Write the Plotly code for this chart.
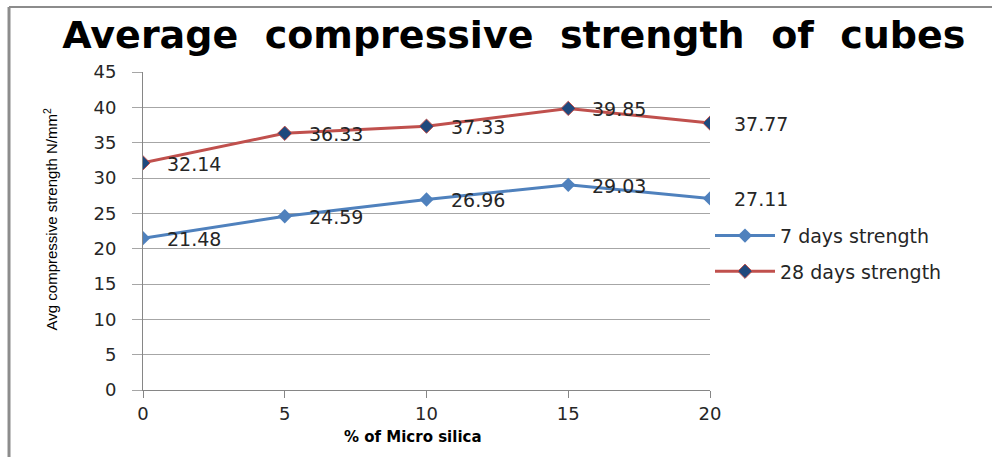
import plotly.graph_objects as go

# Percentage of micro silica replacing cement
micro_silica = [0, 5, 10, 15, 20]

# Average cube compressive strength (N/mm²)
strength_7_days = [21.48, 24.59, 26.96, 29.03, 27.11]
strength_28_days = [32.14, 36.33, 37.33, 39.85, 37.77]

y_ticks = [0, 5, 10, 15, 20, 25, 30, 35, 40, 45]
x_ticks = [0, 5, 10, 15, 20]

BLUE = "#4F81BD"
RED = "#C0504D"
NAVY = "#1F497D"
GRID = "#A6A6A6"
AXIS = "#868686"
TEXT = "#262626"

fig = go.Figure()

fig.add_trace(go.Scatter(
    x=micro_silica, y=strength_7_days, name="7 days strength",
    mode="lines+markers", legendgroup="g7",
    line=dict(color=BLUE, width=3),
    marker=dict(symbol="diamond", size=11, color=BLUE),
))
fig.add_trace(go.Scatter(
    x=micro_silica, y=strength_28_days, name="28 days strength",
    mode="lines+markers", legendgroup="g28",
    line=dict(color=RED, width=3),
    marker=dict(symbol="diamond", size=11, color=NAVY, line=dict(color=RED, width=1)),
))

# Value labels to the right of each point
annotations = []
for series in (strength_7_days, strength_28_days):
    for xv, yv in zip(micro_silica, series):
        annotations.append(dict(
            x=xv, y=yv, xref="x", yref="y", text=f"{yv:.2f}",
            showarrow=False, xanchor="left", yanchor="middle",
            xshift=22, yshift=-1,
            font=dict(family="DejaVu Sans", size=19, color=TEXT),
        ))

# Rotated y-axis title
annotations.append(dict(
    x=-0.163, y=0.535, xref="paper", yref="paper",
    text="Avg compressive strength N/mm<sup>2</sup>",
    showarrow=False, textangle=-90, xanchor="center", yanchor="middle",
    font=dict(family="Liberation Sans Narrow, Liberation Sans", size=15, color="#000000"),
))

# x-axis title, set slightly left of the plot centre
annotations.append(dict(
    x=0.476, y=-0.148, xref="paper", yref="paper",
    text="<b>% of Micro silica</b>",
    showarrow=False, xanchor="center", yanchor="middle",
    font=dict(family="DejaVu Sans", size=15, color="#000000"),
))

# Frame lines along the top and left of the chart area
shapes = [
    dict(type="line", xref="paper", yref="paper", x0=-0.2363, x1=1.5, y0=1.2044, y1=1.2044,
         line=dict(color="#8C8C8C", width=2)),
    dict(type="line", xref="paper", yref="paper", x0=-0.2363, x1=-0.2363, y0=1.2044, y1=-0.25,
         line=dict(color="#8C8C8C", width=3)),
]

title_text = "&nbsp; ".join(["Average", "compressive", "strength", "of", "cubes"])

fig.update_layout(
    width=992, height=457,
    margin=dict(l=143, r=282, t=72, b=67),
    paper_bgcolor="white", plot_bgcolor="white",
    title=dict(
        text=f"<b>{title_text}</b>",
        x=0.518, xanchor="center", y=0.925, yanchor="middle",
        font=dict(family="DejaVu Sans", size=38, color="#000000"),
    ),
    showlegend=True,
    legend=dict(
        x=1.0, xanchor="left", y=0.545, yanchor="top",
        font=dict(family="DejaVu Sans", size=19, color=TEXT),
        tracegroupgap=8, itemwidth=60, bgcolor="rgba(0,0,0,0)",
    ),
    annotations=annotations,
    shapes=shapes,
)

fig.update_xaxes(
    range=[0, 20], tickvals=x_ticks, ticktext=[str(v) for v in x_ticks],
    showgrid=False, zeroline=False,
    showline=True, linecolor=AXIS, linewidth=1,
    ticks="outside", ticklen=7, tickcolor=AXIS,
    tickfont=dict(family="DejaVu Sans", size=18, color=TEXT),
)
fig.update_yaxes(
    range=[0, 45], tickvals=y_ticks, ticktext=[str(v) for v in y_ticks],
    showgrid=True, gridcolor=GRID, gridwidth=1, zeroline=False,
    showline=True, linecolor=AXIS, linewidth=1,
    ticks="outside", ticklen=10, tickcolor=GRID,
    ticklabelstandoff=12,
    tickfont=dict(family="DejaVu Sans", size=18, color=TEXT),
)

fig.write_html("out.html")
